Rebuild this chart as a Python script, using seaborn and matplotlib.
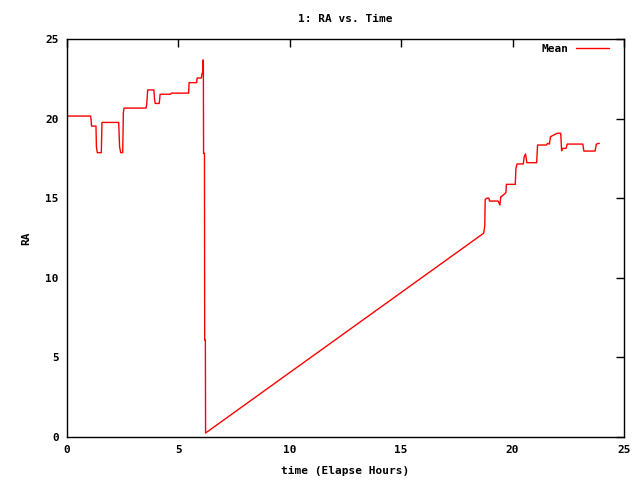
import matplotlib
matplotlib.use("Agg")
import matplotlib.pyplot as plt
import seaborn as sns
import pandas as pd

time_hours = [0.00, 1.06, 1.08, 1.10, 1.13, 1.30, 1.32, 1.36, 1.41, 1.54, 1.57, 1.63,
              2.32, 2.36, 2.41, 2.50, 2.53, 2.56, 3.55, 3.58, 3.62, 3.90, 3.93, 3.96,
              4.14, 4.18, 4.65, 4.68, 5.46, 5.48, 5.82, 5.84, 6.03, 6.06, 6.09, 6.10,
              6.12, 6.13, 6.17, 6.18, 6.21, 6.22,
              18.70, 18.75, 18.77, 18.84, 18.94, 18.96, 19.35, 19.43, 19.47, 19.50,
              19.70, 19.72, 19.78, 20.12, 20.15, 20.20, 20.48, 20.52, 20.58, 20.64,
              21.08, 21.12, 21.53, 21.56, 21.65, 21.70, 21.85, 22.00, 22.16, 22.20,
              22.24, 22.40, 22.45, 23.15, 23.20, 23.70, 23.76, 23.89]
ra_mean = [20.16, 20.16, 19.95, 19.53, 19.53, 19.53, 18.24, 17.86, 17.86, 17.86, 19.76, 19.76,
           19.76, 18.24, 17.86, 17.86, 20.37, 20.66, 20.66, 20.92, 21.80, 21.80, 21.20, 20.95,
           20.95, 21.53, 21.53, 21.60, 21.60, 22.26, 22.26, 22.55, 22.55, 22.85, 22.85, 23.68,
           23.68, 17.82, 17.82, 6.09, 6.09, 0.25,
           12.80, 13.25, 14.93, 15.00, 15.00, 14.82, 14.82, 14.57, 15.10, 15.10,
           15.35, 15.87, 15.87, 15.87, 16.88, 17.15, 17.15, 17.60, 17.78, 17.23,
           17.23, 18.34, 18.34, 18.45, 18.40, 18.86, 18.97, 19.08, 19.08, 17.98,
           18.13, 18.13, 18.40, 18.40, 17.96, 17.96, 18.40, 18.45]

df = pd.DataFrame({"time": time_hours, "RA": ra_mean})

sns.set_style("white")
plt.rcParams["font.family"] = ["DejaVu Sans Mono"]
plt.rcParams["font.weight"] = "bold"

fig = plt.figure(figsize=(6.4, 4.8), dpi=100)
ax = fig.add_axes([67/640, 1-437/480, (624-67)/640, (437-39)/480])

sns.lineplot(data=df, x="time", y="RA", ax=ax, color="#ff0000", linewidth=1.0,
             label="Mean", sort=False, estimator=None)

ax.set_xlim(0, 25)
ax.set_ylim(0, 25)
ax.set_xticks([0, 5, 10, 15, 20, 25])
ax.set_yticks([0, 5, 10, 15, 20, 25])
ax.tick_params(direction="in", length=6, width=1, top=True, right=True,
               labelsize=8, colors="black", labelcolor="black", pad=6)
for s in ax.spines.values():
    s.set_color("black")
    s.set_linewidth(1.0)

ax.set_title("1: RA vs. Time", fontsize=8, fontweight="bold", pad=12, color="black")
ax.set_xlabel("time (Elapse Hours)", fontsize=8, fontweight="bold", labelpad=8, color="black")
ax.set_ylabel("RA", fontsize=8, fontweight="bold", labelpad=10, color="black")

leg = ax.legend(loc="upper right", bbox_to_anchor=(0.973, 0.988), frameon=False,
                fontsize=8, handlelength=3.0, handletextpad=0.6,
                markerfirst=False, borderaxespad=0, borderpad=0)
for t in leg.get_texts():
    t.set_color("black")

fig.savefig("out.png", dpi=100)
